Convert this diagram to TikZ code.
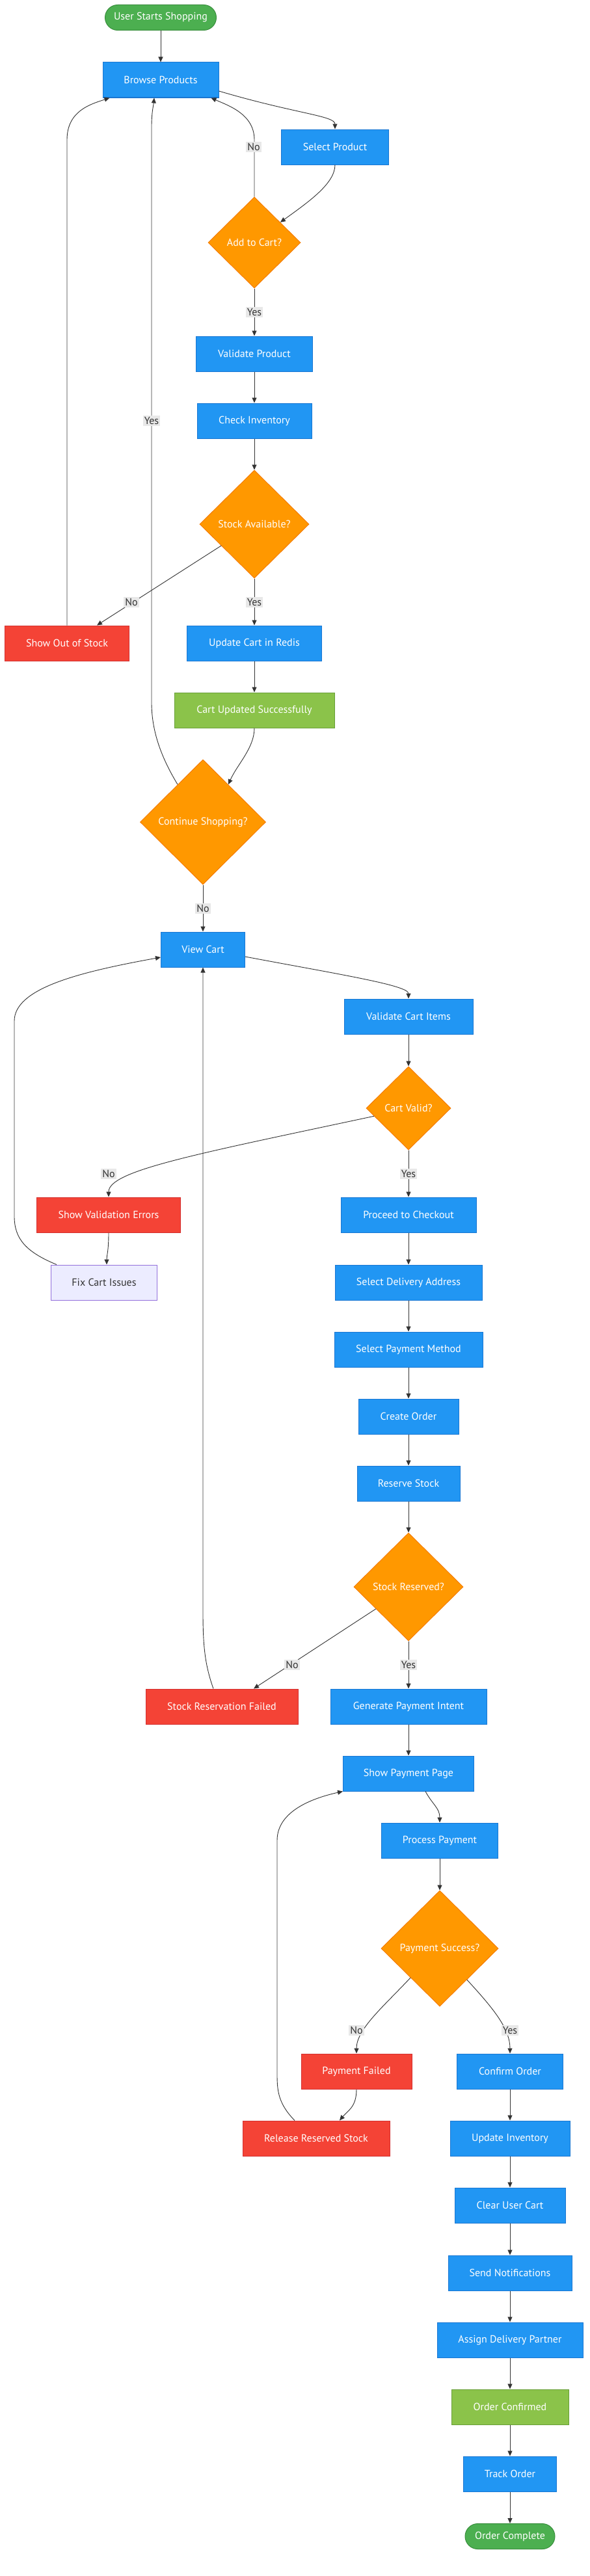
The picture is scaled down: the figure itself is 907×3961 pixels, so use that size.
\documentclass[tikz,border=0pt]{standalone}
\usepackage{fontspec}
\setmainfont{PT Sans}
\usetikzlibrary{shapes.geometric,arrows.meta,calc}
\definecolor{bluef}{HTML}{2196F3}\definecolor{blued}{HTML}{1976D2}
\definecolor{redf}{HTML}{F44336}\definecolor{redd}{HTML}{D32F2F}
\definecolor{orf}{HTML}{FF9800}\definecolor{ord}{HTML}{F57C00}
\definecolor{grf}{HTML}{4CAF50}\definecolor{grd}{HTML}{388E3C}
\definecolor{lgf}{HTML}{8BC34A}\definecolor{lgd}{HTML}{689F38}
\definecolor{fixf}{HTML}{ECECFF}\definecolor{fixd}{HTML}{9370DB}
\definecolor{edgec}{HTML}{333333}\definecolor{lblf}{HTML}{E8E8E8}
\begin{document}
\begin{tikzpicture}[x=1pt,y=-1pt,
  every node/.style={font=\fontsize{16}{19}\selectfont},
  base/.style={rectangle, minimum height=54pt, inner sep=0pt, line width=1pt, text=white},
  bluebox/.style={base, fill=bluef, draw=blued},
  redbox/.style={base, fill=redf, draw=redd},
  greenbox/.style={base, fill=lgf, draw=lgd},
  fixbox/.style={base, fill=fixf, draw=fixd, text=edgec},
  pill/.style={base, rounded corners=19.5pt, minimum height=39pt, fill=grf, draw=grd},
  dec/.style={diamond, inner sep=0pt, line width=1pt, fill=orf, draw=ord, text=white},
  conn/.style={draw=edgec, line width=0.9pt, -{Triangle[length=8pt,width=7pt]}},
  lbl/.style={fill=lblf, text=edgec, inner sep=2pt}
]
\useasboundingbox[fill=white] (0,0) rectangle (907,3961);

% nodes
\node[pill, minimum width=171pt] (start) at (247,27) {User Starts Shopping};
\node[bluebox, minimum width=178pt] (browse) at (247,123) {Browse Products};
\node[bluebox, minimum width=165pt] (select) at (515,226) {Select Product};
\node[dec, minimum width=142pt, minimum height=140pt] (addcart) at (391,373) {Add to Cart?};
\node[bluebox, minimum width=179pt] (validate) at (391,544) {Validate Product};
\node[bluebox, minimum width=176pt] (check) at (391,647) {Check Inventory};
\node[dec, minimum width=168pt, minimum height=166pt] (stockavail) at (391,806) {Stock Available?};
\node[redbox, minimum width=191pt] (outofstock) at (103,989) {Show Out of Stock};
\node[bluebox, minimum width=207pt] (updatecart) at (391,989) {Update Cart in Redis};
\node[greenbox, minimum width=246pt] (cartupdated) at (391,1092) {Cart Updated Successfully};
\node[dec, minimum width=193pt, minimum height=192pt] (contshop) at (312,1264) {Continue Shopping?};
\node[bluebox, minimum width=129pt] (viewcart) at (312,1460) {View Cart};
\node[bluebox, minimum width=198pt] (validatecart) at (628,1563) {Validate Cart Items};
\node[dec, minimum width=130pt, minimum height=128pt] (cartvalid) at (628,1704) {Cart Valid?};
\node[redbox, minimum width=221pt] (showvalerr) at (167,1868) {Show Validation Errors};
\node[fixbox, minimum width=163pt] (fix) at (160,1972) {Fix Cart Issues};
\node[bluebox, minimum width=208pt] (proceed) at (628,1868) {Proceed to Checkout};
\node[bluebox, minimum width=226pt] (delivery) at (628,1972) {Select Delivery Address};
\node[bluebox, minimum width=228pt] (paymethod) at (628,2075) {Select Payment Method};
\node[bluebox, minimum width=154pt] (create) at (628,2178) {Create Order};
\node[bluebox, minimum width=158pt] (reserve) at (628,2281) {Reserve Stock};
\node[dec, minimum width=168pt, minimum height=166pt] (stockres) at (628,2440) {Stock Reserved?};
\node[redbox, minimum width=234pt] (resfailed) at (341,2624) {Stock Reservation Failed};
\node[bluebox, minimum width=240pt] (genpay) at (628,2624) {Generate Payment Intent};
\node[bluebox, minimum width=201pt] (showpay) at (628,2727) {Show Payment Page};
\node[bluebox, minimum width=179pt] (procpay) at (676,2830) {Process Payment};
\node[dec, minimum width=180pt, minimum height=178pt] (paysucc) at (676,2996) {Payment Success?};
\node[redbox, minimum width=170pt] (payfailed) at (548,3185) {Payment Failed};
\node[bluebox, minimum width=163pt] (confirm) at (784,3185) {Confirm Order};
\node[redbox, minimum width=226pt] (release) at (486,3288) {Release Reserved Stock};
\node[bluebox, minimum width=184pt] (update) at (784,3288) {Update Inventory};
\node[bluebox, minimum width=170pt] (clear) at (784,3391) {Clear User Cart};
\node[bluebox, minimum width=190pt] (send) at (784,3495) {Send Notifications};
\node[bluebox, minimum width=224pt] (assign) at (784,3598) {Assign Delivery Partner};
\node[greenbox, minimum width=180pt] (confirmed) at (784,3701) {Order Confirmed};
\node[bluebox, minimum width=143pt] (track) at (784,3804) {Track Order};
\node[pill, minimum width=138pt] (complete) at (784,3900) {Order Complete};

% connectors
\draw[conn] (start) -- (browse);
\draw[conn] ($(browse.east)+(0,17)$) .. controls (455,175) and (515,178) .. (select.north);
\draw[conn] (select.south) .. controls (515,282) and (475,310) .. (addcart.38);
\draw[conn] (addcart.north) -- (391,215) .. controls (391,175) and (350,162) .. ($(browse.south east)+(-12,0)$);
\draw[conn] (addcart.south) -- (validate.north);
\draw[conn] (validate) -- (check);
\draw[conn] (check) -- (stockavail);
\draw[conn] (stockavail.213) -- ($(outofstock.north)+(46,0)$);
\draw[conn] (stockavail.south) -- (updatecart.north);
\draw[conn] (updatecart) -- (cartupdated);
\draw[conn] (cartupdated.south) .. controls (391,1150) and (365,1175) .. (contshop.56);
\draw[conn] (contshop.124) .. controls (245,1160) and (233,1120) .. (233,1080) -- (233,195) .. controls (233,172) and (236,162) .. ($(browse.south)+(-10,0)$);
\draw[conn] (outofstock.north) -- (103,215) .. controls (103,170) and (140,160) .. ($(browse.south west)+(11,0)$);
\draw[conn] (contshop.south) -- (viewcart.north);
\draw[conn] ($(viewcart.east)+(0,11)$) .. controls (520,1498) and (628,1515) .. (validatecart.north);
\draw[conn] (validatecart) -- (cartvalid);
\draw[conn] (cartvalid.193) .. controls (300,1775) and (167,1800) .. (showvalerr.north);
\draw[conn] (cartvalid.south) -- (proceed.north);
\draw[conn] (showvalerr.south) .. controls (167,1925) and (164,1930) .. ($(fix.north)+(4,0)$);
\draw[conn] ($(fix.north west)+(9,0)$) .. controls (40,1925) and (22,1905) .. (22,1870) -- (22,1570) .. controls (22,1520) and (120,1495) .. ($(viewcart.west)+(0,12)$);
\draw[conn] (proceed) -- (delivery);
\draw[conn] (delivery) -- (paymethod);
\draw[conn] (paymethod) -- (create);
\draw[conn] (create) -- (reserve);
\draw[conn] (reserve) -- (stockres);
\draw[conn] (stockres.214) -- ($(resfailed.north)+(49,0)$);
\draw[conn] (stockres.south) -- (genpay.north);
\draw[conn] ($(resfailed.north)+(-13,0)$) .. controls (315,2560) and (312,2530) .. (312,2480) -- (viewcart.south);
\draw[conn] (genpay) -- (showpay);
\draw[conn] ($(showpay.south)+(26,0)$) .. controls (665,2775) and (676,2780) .. (procpay.north);
\draw[conn] (procpay) -- (paysucc);
\draw[conn] (paysucc.225) .. controls (590,3085) and (548,3120) .. (payfailed.north);
\draw[conn] (paysucc.311) .. controls (760,3090) and (784,3120) .. (confirm.north);
\draw[conn] (payfailed.south) .. controls (548,3240) and (535,3245) .. ($(release.north)+(36,0)$);
\draw[conn] ($(release.north)+(-33,0)$) .. controls (428,3235) and (426,3215) .. (426,3190) -- (426,2830) .. controls (426,2785) and (480,2765) .. (showpay.south west);
\draw[conn] (confirm) -- (update);
\draw[conn] (update) -- (clear);
\draw[conn] (clear) -- (send);
\draw[conn] (send) -- (assign);
\draw[conn] (assign) -- (confirmed);
\draw[conn] (confirmed) -- (track);
\draw[conn] (track) -- (complete);

% edge labels
\node[lbl] (l1) at (390,226) {No};
\node[lbl] (l2) at (391,480) {Yes};
\node[lbl] (l3) at (233,647) {Yes};
\node[lbl] (l4) at (202,926) {No};
\node[lbl] (l5) at (391,926) {Yes};
\node[lbl] (l6) at (312,1397) {No};
\node[lbl] (l7) at (167,1805) {No};
\node[lbl] (l8) at (628,1805) {Yes};
\node[lbl] (l9) at (449,2560) {No};
\node[lbl] (l10) at (628,2560) {Yes};
\node[lbl] (l11) at (548,3122) {No};
\node[lbl] (l12) at (784,3122) {Yes};
\end{tikzpicture}
\end{document}
